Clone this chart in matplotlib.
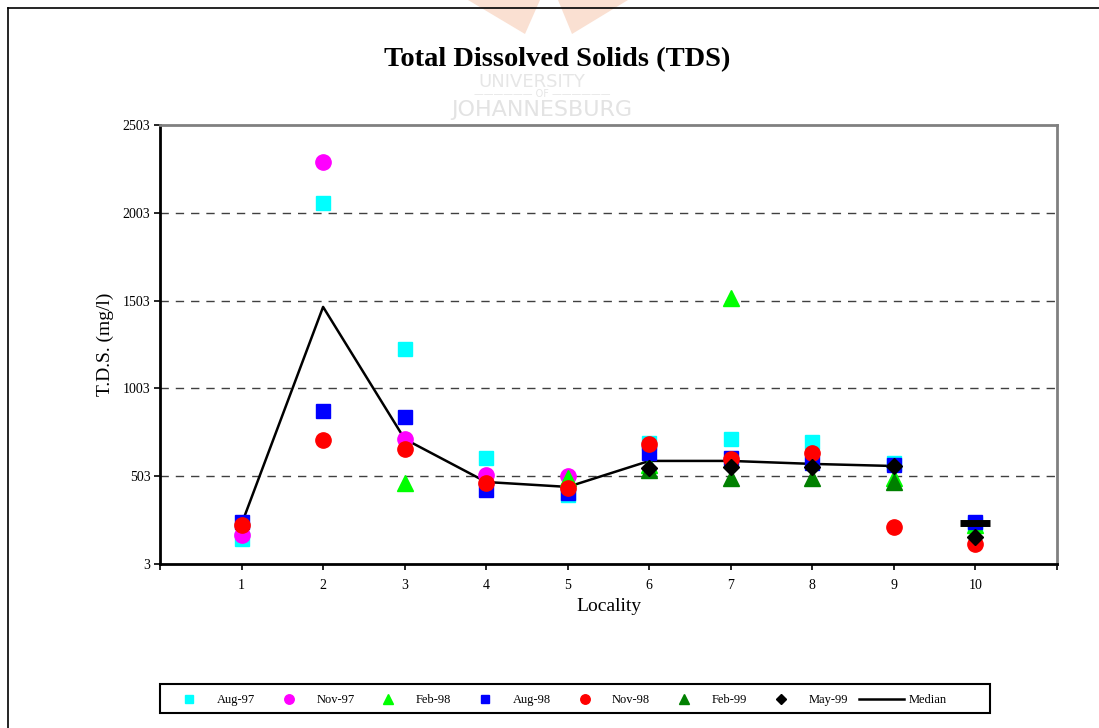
import numpy as np
import matplotlib
matplotlib.use("Agg")
import matplotlib.pyplot as plt
from matplotlib.lines import Line2D
from matplotlib.patches import Polygon, Rectangle

nan = np.nan

# Data (T.D.S. in mg/l per locality)
locality = [1, 2, 3, 4, 5, 6, 7, 8, 9, 10]
aug97 = [145, 2059, 1227, 607, 396, 690, 715, 698, 578, 230]
nov97 = [170, 2292, 715, 510, 504, nan, nan, nan, nan, nan]
feb98 = [nan, nan, 464, nan, 493, 567, 1515, nan, 493, 225]
aug98 = [245, 874, 840, 424, 407, 635, 607, 578, 567, 242]
nov98 = [225, 709, 658, 464, 436, 686, 600, 635, 214, 117]
feb99 = [nan, nan, nan, nan, nan, 538, 493, 493, 470, nan]
may99 = [nan, nan, nan, nan, nan, 550, 556, 556, 561, 157]
median = [230, 1467, 715, 470, 442, 590, 590, 573, 561, 236]

yticks = [3, 503, 1003, 1503, 2003, 2503]

plt.rcParams['font.family'] = ['Liberation Serif', 'DejaVu Serif']

fig = plt.figure(figsize=(10.99, 7.28), dpi=100)
ax = fig.add_axes([160/1099, 1-564/728, 897/1099, 439/728])

# faint university watermark behind everything
fig.text(532/1099, 1-82/728, 'UNIVERSITY', ha='center', va='center', fontsize=13,
         color='#e6e6e6', family='DejaVu Sans', zorder=0)
fig.text(542/1099, 1-94/728, '—————— OF ——————', ha='center', va='center', fontsize=7,
         color='#e6e6e6', family='DejaVu Sans', zorder=0)
fig.text(542/1099, 1-110/728, 'JOHANNESBURG', ha='center', va='center', fontsize=16,
         color='#e3e3e3', family='DejaVu Sans', zorder=0)
for pts in ([(468, 0), (540, 0), (525, 34)], [(558, 0), (628, 0), (572, 34)]):
    fig.add_artist(Polygon([(x/1099, 1-y/728) for x, y in pts], closed=True,
                           transform=fig.transFigure, color='#fae0d2', lw=0, zorder=0))

# outer frame of the chart
fig.add_artist(Line2D([8/1099, 1], [1-8/728, 1-8/728], color='black', lw=1.2,
                      transform=fig.transFigure))
fig.add_artist(Line2D([8/1099, 8/1099], [0, 1-8/728], color='black', lw=1.2,
                      transform=fig.transFigure))

# median line (locality 1-9) and dash marker at 10
ax.plot(locality[:9], median[:9], color='black', lw=1.8, zorder=2)
ax.plot(locality[9], median[9], marker='_', color='black', ms=21, mew=5, zorder=10)

series = [
    (aug97, 's', '#00ffff', 10, 'Aug-97'),
    (nov97, 'o', '#ff00ff', 11, 'Nov-97'),
    (feb98, '^', '#00ff00', 11, 'Feb-98'),
    (aug98, 's', '#0000ff', 10, 'Aug-98'),
    (nov98, 'o', '#ff0000', 11, 'Nov-98'),
    (feb99, '^', '#008000', 11, 'Feb-99'),
    (may99, 'D', '#000000', 8, 'May-99'),
]
handles = []
for i, (vals, mk, col, ms, lab) in enumerate(series):
    ax.plot(locality, vals, linestyle='none', marker=mk, color=col, ms=ms,
            mec=col, zorder=3+i)
    handles.append(Line2D([], [], linestyle='none', marker=mk, color=col,
                          ms=ms*0.62, label=lab))
handles.append(Line2D([], [], color='black', lw=1.8, label='Median'))

ax.set_xlim(0, 11)
ax.set_ylim(3, 2503)
ax.set_yticks(yticks)
ax.set_yticklabels([str(t) for t in yticks], fontsize=10)
ax.set_xticks(range(0, 12))
ax.set_xticklabels([''] + [str(i) for i in locality] + [''], fontsize=10)
ax.tick_params(axis='both', direction='out', length=4, width=1.2)
ax.tick_params(axis='y', pad=3)
ax.tick_params(axis='x', pad=7)
for t in yticks[1:5]:
    ax.axhline(t, color='#404040', lw=1, ls=(0, (6, 5)), zorder=1)

ax.spines['left'].set_linewidth(2)
ax.spines['bottom'].set_linewidth(2)
ax.spines['top'].set_color('#808080')
ax.spines['right'].set_color('#808080')
ax.spines['top'].set_linewidth(2)
ax.spines['right'].set_linewidth(2)

ax.set_xlabel('Locality', fontsize=14, labelpad=4)
ax.set_ylabel('T.D.S. (mg/l)', fontsize=14, labelpad=6)
fig.text(557/1099, 1-60/728, 'Total Dissolved Solids (TDS)', ha='center', va='center',
         fontsize=20.5, fontweight='bold')

# legend entries spread over the left part of the box, box drawn separately
leg = fig.legend(handles=handles, loc='lower left',
                 bbox_to_anchor=(160/1099, 1-713/728, 794/1099, 29/728), mode='expand',
                 ncol=8, fontsize=9, frameon=False,
                 handlelength=3.6, handletextpad=0.4, borderpad=0.55, borderaxespad=0)
fig.add_artist(Rectangle((160/1099, 1-713/728), 830/1099, 29/728, fill=False,
                         edgecolor='black', lw=1.5, transform=fig.transFigure))

fig.savefig('out.png', dpi=100)
